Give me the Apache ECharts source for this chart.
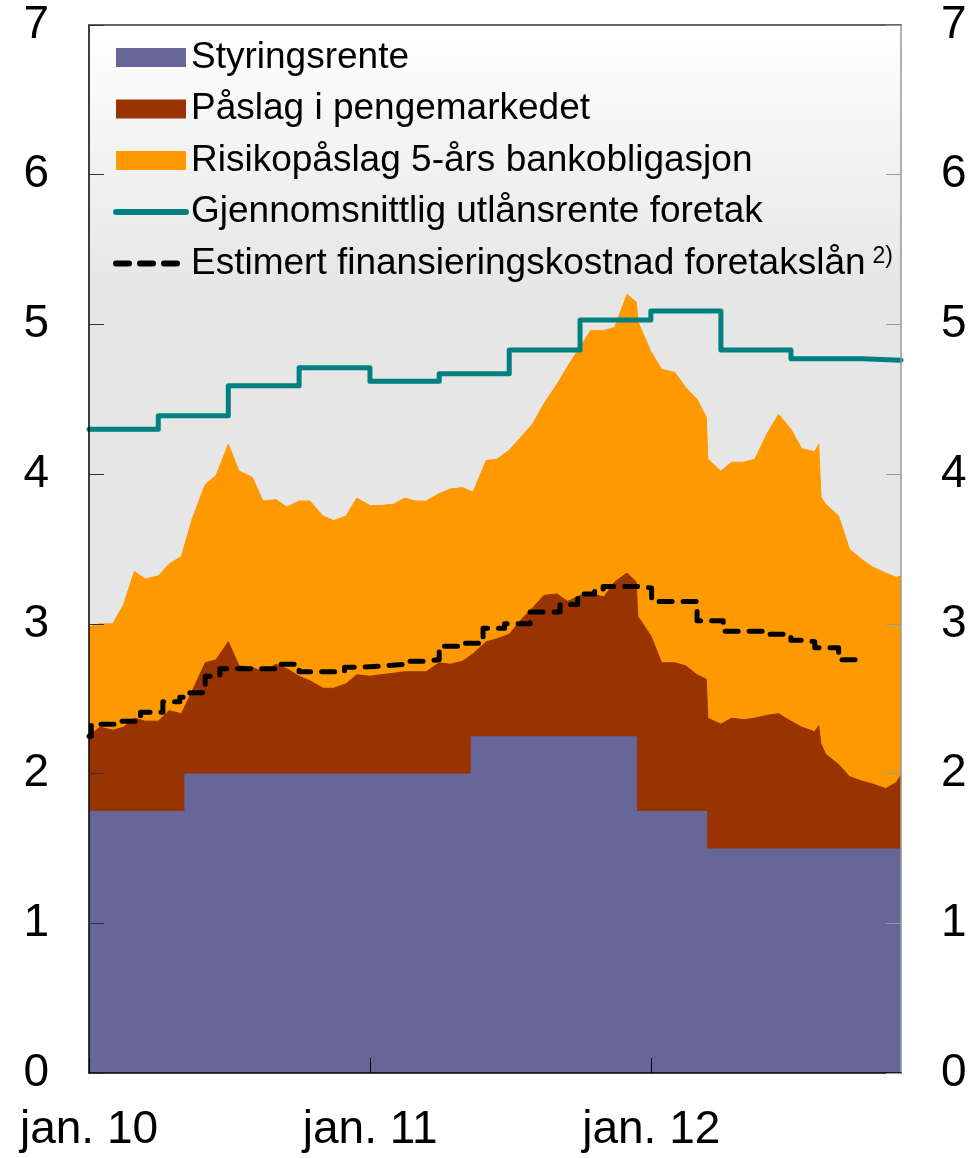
<!DOCTYPE html>
<html>
<head>
<meta charset="utf-8">
<script src="https://cdn.jsdelivr.net/npm/echarts@6/dist/echarts.min.js"></script>
<style>
	html, body { margin: 0; padding: 0; background: #fff; }
</style>
</head>
<body>
<div id="chart1" style="width: 976px; height: 1158px"></div>

<script>
	const END = '2012-11-21';

	// reading dates: 1st and 15th of each month, plus a few days around sharp moves
	const nivaaDates = [
		'2010-01-01', '2010-01-15', '2010-02-01', '2010-02-15', '2010-03-01', '2010-03-15',
		'2010-04-01', '2010-04-15', '2010-05-01', '2010-05-15', '2010-06-01', '2010-06-15',
		'2010-07-01', '2010-07-15', '2010-08-01', '2010-08-15', '2010-09-01', '2010-09-15',
		'2010-10-01', '2010-10-15', '2010-11-01', '2010-11-15', '2010-12-01', '2010-12-15',
		'2011-01-01', '2011-01-15', '2011-02-01', '2011-02-15', '2011-03-01', '2011-03-15',
		'2011-04-01', '2011-04-15', '2011-05-01', '2011-05-15', '2011-06-01', '2011-06-15',
		'2011-07-01', '2011-07-15', '2011-08-01', '2011-08-15', '2011-09-01', '2011-09-15',
		'2011-10-01', '2011-10-15', '2011-11-01', '2011-11-15', '2011-12-01', '2011-12-13', '2011-12-15',
		'2012-01-01', '2012-01-15', '2012-02-01', '2012-02-15', '2012-03-01', '2012-03-13', '2012-03-15',
		'2012-04-01', '2012-04-15', '2012-05-01', '2012-05-15', '2012-06-01', '2012-06-15',
		'2012-07-01', '2012-07-15', '2012-08-01', '2012-08-06', '2012-08-09', '2012-08-15',
		'2012-09-01', '2012-09-15', '2012-10-01', '2012-10-15', '2012-11-01', '2012-11-15', END
	];

	// level of the money market rate (top of the brown band)
	const pengemarkedNivaa = [
		2.25, 2.31, 2.29, 2.31, 2.37, 2.35, 2.35, 2.42, 2.40, 2.55, 2.74, 2.76,
		2.88, 2.72, 2.71, 2.68, 2.73, 2.70, 2.65, 2.62, 2.57, 2.57, 2.60, 2.66,
		2.65, 2.66, 2.67, 2.68, 2.68, 2.68, 2.74, 2.73, 2.75, 2.80, 2.88, 2.90,
		2.93, 3.02, 3.11, 3.19, 3.20, 3.15, 3.19, 3.20, 3.18, 3.28, 3.34, 3.28, 3.05,
		2.92, 2.74, 2.74, 2.72, 2.66, 2.63, 2.37, 2.33, 2.37, 2.36, 2.37, 2.39, 2.40,
		2.35, 2.31, 2.28, 2.32, 2.20, 2.13, 2.06, 1.98, 1.95, 1.93, 1.90, 1.94, 1.99
	];
	// level incl. risk premium on 5y bank bonds (top of the orange band)
	const risikoNivaa = [
		2.98, 3.00, 3.00, 3.13, 3.35, 3.30, 3.32, 3.40, 3.45, 3.70, 3.93, 3.99,
		4.20, 4.02, 3.98, 3.82, 3.83, 3.78, 3.82, 3.82, 3.72, 3.69, 3.72, 3.84,
		3.79, 3.79, 3.80, 3.84, 3.82, 3.82, 3.87, 3.90, 3.91, 3.88, 4.09, 4.10,
		4.16, 4.24, 4.34, 4.47, 4.60, 4.72, 4.85, 4.96, 4.96, 4.98, 5.20, 5.15, 5.02,
		4.82, 4.70, 4.68, 4.58, 4.50, 4.38, 4.10, 4.02, 4.08, 4.08, 4.10, 4.28, 4.40,
		4.30, 4.17, 4.15, 4.20, 3.85, 3.80, 3.72, 3.50, 3.43, 3.38, 3.34, 3.31, 3.32
	];

	const styringsDates = ['2010-01-01', '2010-05-05', '2011-05-12', '2011-12-14', '2012-03-14', END];
	const styringsrente = [1.75, 2.00, 2.25, 1.75, 1.50, 1.50];

	const utlaanDates = ['2010-01-01', '2010-04-01', '2010-07-01', '2010-10-01', '2011-01-01', '2011-04-01',
		'2011-07-01', '2011-10-01', '2012-01-01', '2012-04-01', '2012-07-01', '2012-10-01', END];
	const utlaansrente = [4.30, 4.39, 4.59, 4.71, 4.62, 4.67, 4.83, 5.03, 5.09, 4.83, 4.77, 4.76, 4.76];

	const kostDates = ['2010-01-01', '2010-01-04', '2010-02-12', '2010-03-09', '2010-04-07', '2010-04-29',
		'2010-05-12', '2010-06-01', '2010-06-20', '2010-09-03', '2010-10-01', '2010-11-29', '2010-12-19',
		'2011-01-20', '2011-02-15', '2011-03-13', '2011-04-01', '2011-04-30', '2011-05-28', '2011-06-25',
		'2011-07-28', '2011-09-05', '2011-09-28', '2011-10-20', '2011-10-31', '2011-12-14', '2012-01-02',
		'2012-03-01', '2012-04-04', '2012-05-31', '2012-07-01', '2012-07-20', '2012-08-01', '2012-09-01',
		'2012-10-01'];
	const finansieringskostnad = [2.25, 2.33, 2.35, 2.41, 2.48, 2.51, 2.54, 2.65, 2.70, 2.73, 2.68, 2.71,
		2.72, 2.73, 2.75, 2.76, 2.85, 2.87, 2.97, 3.00, 3.08, 3.13, 3.20, 3.22, 3.25, 3.24, 3.15, 3.02,
		2.95, 2.93, 2.89, 2.88, 2.84, 2.76, 2.76];

	const xTickYears = [0, 1, 2];
	const xTickLabels = ['jan. 10', 'jan. 11', 'jan. 12'];

	// x is in years since 1 jan 2010
	const T0 = Date.parse('2010-01-01');
	function yr(d) { return (Date.parse(d) - T0) / (365.25 * 86400000); }
	function pairs(dates, vals) { return dates.map(function (d, i) { return [yr(d), vals[i]]; }); }

	const FONT = '"Liberation Sans", Arial, sans-serif';
	const SUP_NAME = 'Estimert finansieringskostnad foretakslån';

	var chart1 = echarts.init(document.getElementById('chart1'));

	var chart1_option = {
		animation: false,
		textStyle: { fontFamily: FONT },
		grid: {
			left: 89, right: 75, top: 25, bottom: 85,
			show: true, borderWidth: 0,
			backgroundColor: {
				type: 'linear', x: 0, y: 0, x2: 0, y2: 1,
				colorStops: [
					{ offset: 0, color: '#ffffff' },
					{ offset: 0.25, color: '#e6e6e6' },
					{ offset: 1, color: '#e6e6e6' }
				]
			}
		},
		legend: {
			orient: 'vertical',
			left: 108, top: 34,
			itemWidth: 70, itemHeight: 19, itemGap: 14.5,
			selectedMode: false,
			textStyle: {
				fontSize: 37, color: '#000', fontFamily: FONT, lineHeight: 37,
				rich: { sup: { fontSize: 23, fontFamily: FONT, color: '#000', verticalAlign: 'top', padding: [0, 0, 0, 7] } }
			},
			formatter: function (name) { return name === SUP_NAME ? name + '{sup|2)}' : name; },
			data: [
				{ name: 'Styringsrente', icon: 'rect', itemStyle: { borderWidth: 0 } },
				{ name: 'Påslag i pengemarkedet', icon: 'rect', itemStyle: { borderWidth: 0 } },
				{ name: 'Risikopåslag 5-års bankobligasjon', icon: 'rect', itemStyle: { borderWidth: 0 } },
				{ name: 'Gjennomsnittlig utlånsrente foretak', itemStyle: { opacity: 0 }, lineStyle: { width: 6 } },
				{ name: SUP_NAME, itemStyle: { opacity: 0 }, lineStyle: { width: 6 } }
			]
		},
		xAxis: [{
			type: 'value', min: 0, max: yr(END), interval: 1, position: 'bottom', z: 10,
			axisLine: { onZero: false, lineStyle: { color: '#000', width: 1.5 } },
			axisTick: { show: true, inside: true, length: 15, customValues: xTickYears, lineStyle: { color: '#000' } },
			axisLabel: {
				customValues: xTickYears, fontSize: 46, color: '#000', margin: 34, fontFamily: FONT,
				formatter: function (v) { return xTickLabels[Math.round(v)] || ''; }
			},
			splitLine: { show: false }
		}, {
			type: 'value', min: 0, max: yr(END), position: 'top', z: 10,
			axisLine: { show: true, onZero: false, lineStyle: { color: '#333', width: 1.5 } },
			axisTick: { show: false }, axisLabel: { show: false }, splitLine: { show: false }
		}],
		yAxis: [{
			type: 'value', min: 0, max: 7, interval: 1, position: 'left', z: 10,
			axisLine: { show: true, onZero: false, lineStyle: { color: '#000', width: 1.5 } },
			axisTick: { show: true, inside: true, length: 15, lineStyle: { color: '#333' } },
			axisLabel: { fontSize: 46, color: '#000', margin: 40, fontFamily: FONT },
			splitLine: { show: false }
		}, {
			type: 'value', min: 0, max: 7, interval: 1, position: 'right', z: 10,
			axisLine: { show: true, onZero: false, lineStyle: { color: '#999', width: 1.5 } },
			axisTick: { show: true, inside: true, length: 15, lineStyle: { color: '#999' } },
			axisLabel: { fontSize: 46, color: '#000', margin: 40, fontFamily: FONT },
			splitLine: { show: false }
		}],
		series: [{
			name: 'Risikopåslag 5-års bankobligasjon', type: 'line', symbol: 'none', z: 2,
			data: pairs(nivaaDates, risikoNivaa),
			itemStyle: { color: '#FF9900' },
			lineStyle: { width: 1, color: '#FF9900' },
			areaStyle: { color: '#FF9900', opacity: 1 }
		}, {
			name: 'Påslag i pengemarkedet', type: 'line', symbol: 'none', z: 3,
			data: pairs(nivaaDates, pengemarkedNivaa),
			itemStyle: { color: '#993300' },
			lineStyle: { width: 1, color: '#993300' },
			areaStyle: { color: '#993300', opacity: 1 }
		}, {
			name: 'Styringsrente', type: 'line', symbol: 'none', step: 'end', z: 4,
			data: pairs(styringsDates, styringsrente),
			itemStyle: { color: '#666699' },
			lineStyle: { width: 0, color: '#666699' },
			areaStyle: { color: '#666699', opacity: 1 }
		}, {
			name: 'Gjennomsnittlig utlånsrente foretak', type: 'line', symbol: 'none', step: 'end', z: 5,
			data: pairs(utlaanDates, utlaansrente),
			itemStyle: { color: '#008080' },
			lineStyle: { width: 5, color: '#008080', cap: 'round', join: 'round' }
		}, {
			name: SUP_NAME, type: 'line', symbol: 'none', step: 'end', z: 6,
			data: pairs(kostDates, finansieringskostnad),
			itemStyle: { color: '#000' },
			lineStyle: { width: 5, color: '#000', type: [13, 11], cap: 'round', join: 'round' }
		}]
	};

	chart1.setOption(chart1_option);
</script>
</body>
</html>
